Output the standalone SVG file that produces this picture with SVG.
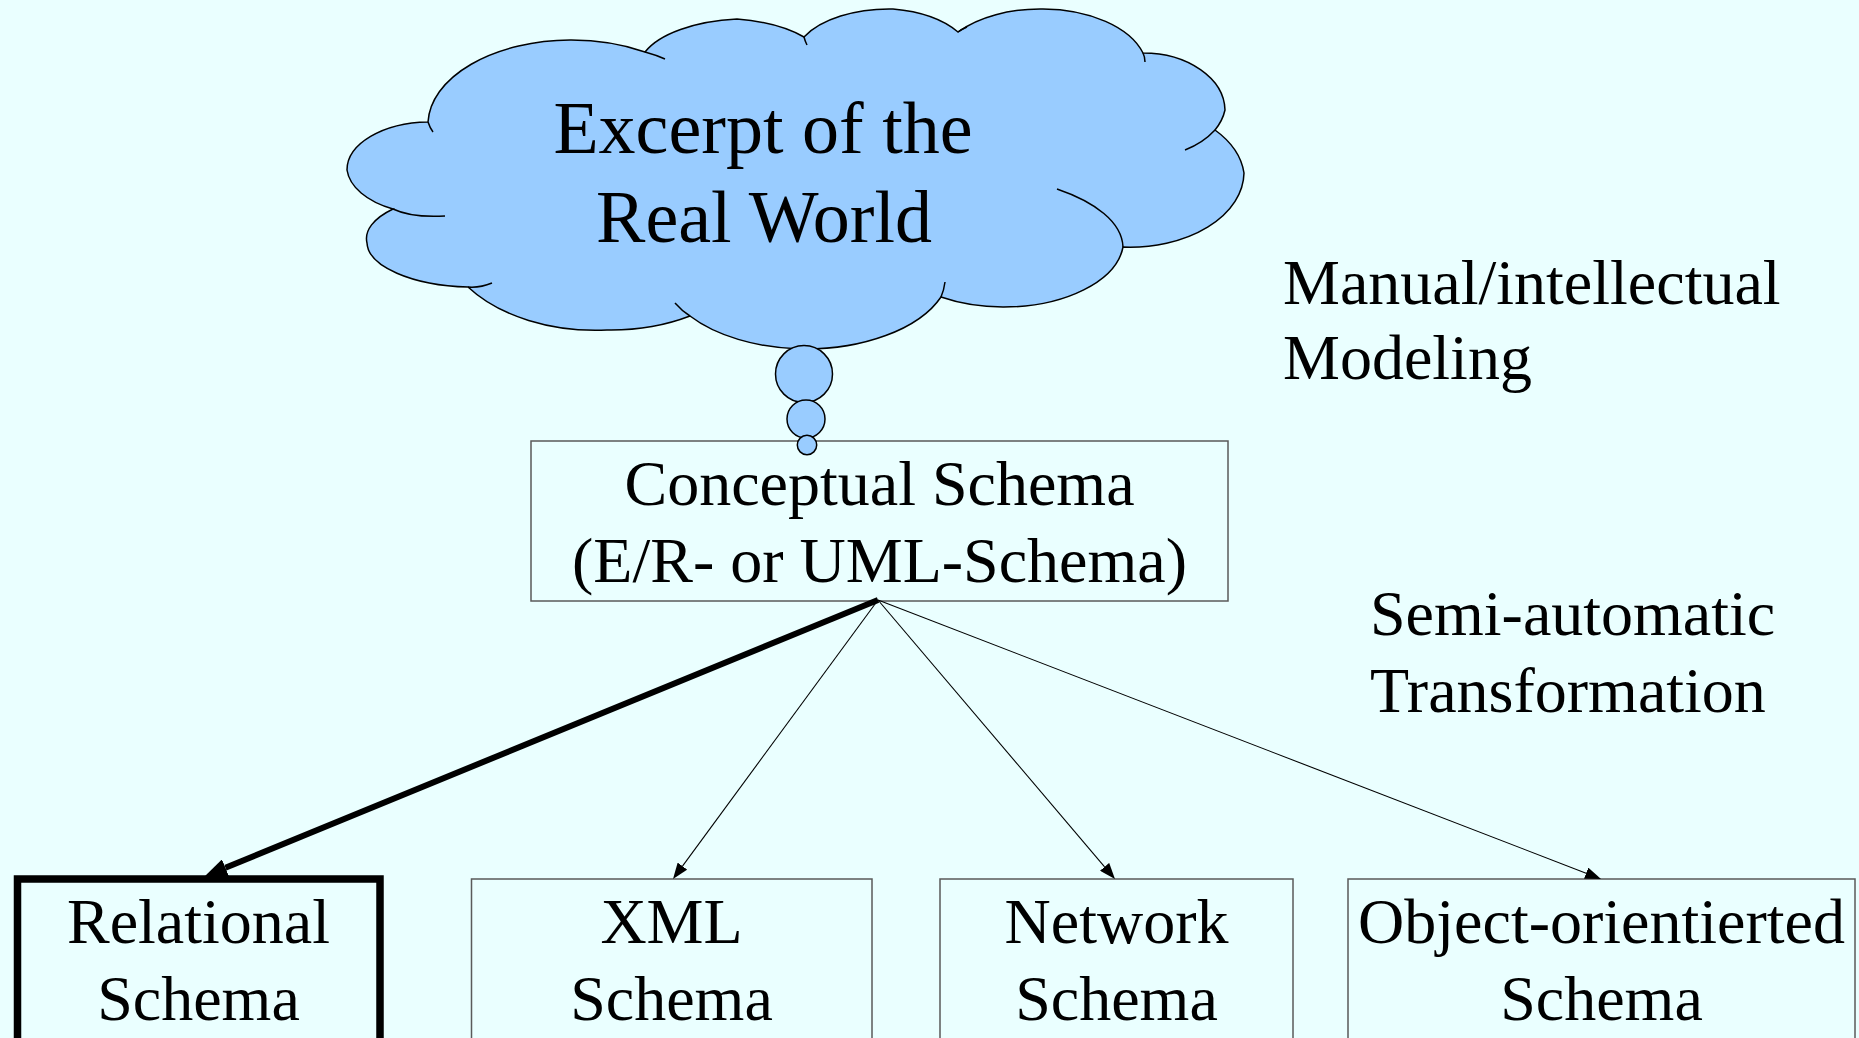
<svg xmlns="http://www.w3.org/2000/svg" width="1859" height="1038" viewBox="0 0 1859 1038">
<defs>
<style>
.t{font-family:"Liberation Serif","Times New Roman",serif;fill:#000;}
.f64{font-size:64px;}
.f74{font-size:74px;}
.box{fill:#EAFFFF;stroke:#5a5a5a;stroke-width:1.5;}
.cloud{fill:#99CCFF;stroke:#000;stroke-width:1.5;}
.tail{fill:none;stroke:#000;stroke-width:1.5;}
.thin{stroke:#000;stroke-width:1.1;fill:none;}
.thick{stroke:#000;stroke-width:6;fill:none;}
</style>
<marker id="ah" markerUnits="userSpaceOnUse" viewBox="0 0 16 12" markerWidth="16" markerHeight="12" refX="0" refY="6" orient="auto">
<path d="M0,0 L16,6 L0,12 z" fill="#000"/>
</marker>
<marker id="ahb" markerUnits="userSpaceOnUse" viewBox="0 0 22 18" markerWidth="22" markerHeight="18" refX="0" refY="9" orient="auto">
<path d="M0,0 L22,9 L0,18 z" fill="#000"/>
</marker>
</defs>
<rect x="0" y="0" width="1859" height="1038" fill="#EAFFFF"/>

<g id="cloud">
<path class="cloud" d="M428,122 A144,85 0 0,1 570,40 A144,85 0 0,1 645,52 A110,50 0 0,1 737,19 A110,50 0 0,1 804,37 A95,50 0 0,1 893,9 A95,50 0 0,1 958,32 A105,61 0 0,1 1043,9 A105,61 0 0,1 1143,53 A82,58 0 0,1 1225,110 A82,58 0 0,1 1215,130 A114,75 0 0,1 1244,173 A114,75 0 0,1 1123,247 A120,67 0 0,1 1003,307 A120,67 0 0,1 941,297 A145,80 0 0,1 800,349 A145,80 0 0,1 690,316 A155,100 0 0,1 607,330 A155,100 0 0,1 468,287 A108,45 0 0,1 367,243 A108,45 0 0,1 393,209 A83,48 0 0,1 347,170 A83,48 0 0,1 428,122 Z"/>
<path class="tail" d="M393,209 Q412,218 445,216"/>
<path class="tail" d="M468,287 Q480,288 492,283"/>
<path class="tail" d="M690,316 Q682,311 675,303"/>
<path class="tail" d="M941,297 Q944,290 945,282"/>
<path class="tail" d="M1057,189 C1095,202 1122,222 1123,247"/>
<path class="tail" d="M1215,130 Q1203,143 1185,150"/>
<path class="tail" d="M1143,53 Q1145,57 1145,62"/>
<path class="tail" d="M958,32 Q962,29 967,27"/>
<path class="tail" d="M804,37 Q805,41 807,45"/>
<path class="tail" d="M645,52 Q656,55 665,59"/>
<path class="tail" d="M428,122 Q430,128 433,132"/>
<text class="t f74" x="763" y="153" text-anchor="middle">Excerpt of the</text>
<text class="t f74" x="764" y="242" text-anchor="middle">Real World</text>
</g>

<g id="conceptual">
<rect class="box" x="531" y="441" width="697" height="160"/>
<text class="t f64" x="879.5" y="505" text-anchor="middle">Conceptual Schema</text>
<text class="t f64" x="879.5" y="582" text-anchor="middle">(E/R- or UML-Schema)</text>
</g>

<g id="bubbles">
<circle class="cloud" cx="804" cy="374" r="28.5"/>
<circle class="cloud" cx="806" cy="419" r="19"/>
<circle class="cloud" cx="807" cy="445" r="9.7"/>
</g>

<g id="label-manual">
<text class="t f64" x="1283" y="304">Manual/intellectual</text>
<text class="t f64" x="1283" y="379">Modeling</text>
</g>

<g id="label-semi">
<text class="t f64" x="1370" y="635">Semi-automatic</text>
<text class="t f64" x="1370" y="712">Transformation</text>
</g>

<g id="relational">
<rect x="17.5" y="879" width="362.5" height="200" fill="#EAFFFF" stroke="#000" stroke-width="7.5"/>
<text class="t f64" x="198.5" y="943" text-anchor="middle">Relational</text>
<text class="t f64" x="198.5" y="1020" text-anchor="middle">Schema</text>
</g>

<g id="xml">
<rect class="box" x="471.5" y="879" width="400.5" height="200"/>
<text class="t f64" x="671.5" y="943" text-anchor="middle">XML</text>
<text class="t f64" x="671.5" y="1020" text-anchor="middle">Schema</text>
</g>

<g id="network">
<rect class="box" x="940" y="879" width="353" height="200"/>
<text class="t f64" x="1116.5" y="943" text-anchor="middle">Network</text>
<text class="t f64" x="1116.5" y="1020" text-anchor="middle">Schema</text>
</g>

<g id="object">
<rect class="box" x="1348" y="879" width="507" height="200"/>
<text class="t f64" x="1601.5" y="943" text-anchor="middle">Object-orientierted</text>
<text class="t f64" x="1601.5" y="1020" text-anchor="middle">Schema</text>
</g>

<g id="connectors">
<line class="thick" x1="878" y1="600" x2="225.4" y2="867.7" marker-end="url(#ahb)"/>
<line class="thin" x1="878" y1="600" x2="682.5" y2="866.1" marker-end="url(#ah)"/>
<line class="thin" x1="878" y1="600" x2="1104.6" y2="866.8" marker-end="url(#ah)"/>
<line class="thin" x1="878" y1="600" x2="1586.1" y2="873.2" marker-end="url(#ah)"/>
</g>
</svg>
